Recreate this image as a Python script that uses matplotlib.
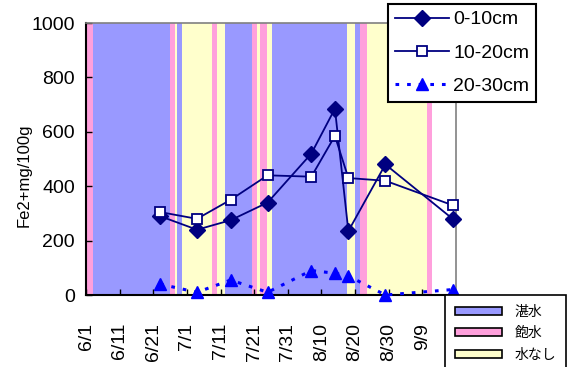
import matplotlib
matplotlib.use('Agg')
import matplotlib.pyplot as plt
from matplotlib.lines import Line2D
from matplotlib.patches import Patch
from matplotlib import font_manager
import pandas as pd

YEAR = 2006
x_start = '6/1'
x_end = '9/19'

sample_dates = ['6/23', '7/4', '7/14', '7/25', '8/7', '8/14', '8/18', '8/29', '9/18']
fe_0_10 = [290, 240, 275, 340, 520, 685, 235, 480, 280]
fe_10_20 = [305, 280, 350, 440, 435, 585, 430, 420, 330]
fe_20_30 = [40, 10, 55, 10, 90, 80, 70, 0, 20]
series_labels = ['0-10cm', '10-20cm', '20-30cm']

# water-condition bands, boundaries in days after 6/1
band_edges = [0, 2, 25, 26.5, 27, 28.5, 37.5, 39, 41.3, 49.3, 50.8, 51.7, 53.8,
              55.3, 77.6, 80, 81.5, 83.5, 101.5, 103]
band_state = ['飽水', '湛水', '飽水', '水なし', '湛水', '水なし', '飽水', '水なし', '湛水',
              '飽水', '水なし', '飽水', '水なし', '湛水', '水なし', '湛水', '飽水', '水なし', '飽水']
state_names = ['湛水', '飽水', '水なし']
state_colors = {'湛水': '#9999FF', '飽水': '#FFA0DC', '水なし': '#FFFFCC'}

x_tick_labels = ['6/1', '6/11', '6/21', '7/1', '7/11', '7/21', '7/31', '8/10',
                 '8/20', '8/30', '9/9']
y_ticks = [0, 200, 400, 600, 800, 1000]

names = {f.name for f in font_manager.fontManager.ttflist}
narrow = 'Liberation Sans Narrow' if 'Liberation Sans Narrow' in names else 'Liberation Sans'
plt.rcParams['font.family'] = [narrow, 'DejaVu Sans']
cjk = ['Noto Sans CJK JP', 'DejaVu Sans']

def d(s):
    return pd.Timestamp(f'{YEAR}/{s}')

start = d(x_start)
fig = plt.figure(figsize=(5.73, 3.67), dpi=100)
ax = fig.add_axes([86/573, 1-295/367, 370/573, 272/367])

for i, st in enumerate(band_state):
    a = start + pd.Timedelta(days=band_edges[i])
    b = start + pd.Timedelta(days=band_edges[i+1])
    ax.axvspan(a, b, color=state_colors[st], lw=0, zorder=0)

xs = [d(s) for s in sample_dates]
ax.plot(xs, fe_0_10, color='#000080', lw=1.3, marker='D', ms=8.5,
        mfc='#000080', mec='#000080', clip_on=False, zorder=3)
ax.plot(xs, fe_10_20, color='#000080', lw=1.3, marker='s', ms=6.5,
        mfc='white', mec='#000080', mew=1.3, clip_on=False, zorder=3)
ax.plot(xs, fe_20_30, color='#0000FF', lw=2.2, ls=(0, (1.2, 2.6)), marker='^', ms=9,
        mfc='#0000FF', mec='#0000FF', clip_on=False, zorder=3)

ax.set_xlim(start, d(x_end))
ax.set_ylim(0, 1000)
ax.set_xticks([d(s) for s in x_tick_labels])
ax.set_xticklabels(x_tick_labels, rotation=90)
ax.set_yticks(y_ticks)
ax.set_yticklabels([str(v) for v in y_ticks])
ax.tick_params(axis='x', direction='in', length=4, width=1, pad=20, labelsize=14)
ax.tick_params(axis='y', direction='in', length=4, width=1, pad=8, labelsize=14)
for s in ['left', 'bottom']:
    ax.spines[s].set_color('black')
    ax.spines[s].set_linewidth(1.5)
for s in ['top', 'right']:
    ax.spines[s].set_color('#808080')
    ax.spines[s].set_linewidth(1.2)

ax.set_ylabel('Fe2+mg/100g', fontsize=12, va='center')
ax.yaxis.set_label_coords(-0.168, 0.44)

h1 = [Line2D([], [], color='#000080', lw=1.3, marker='D', ms=8.5, mfc='#000080', mec='#000080'),
      Line2D([], [], color='#000080', lw=1.3, marker='s', ms=6.5, mfc='white', mec='#000080', mew=1.3),
      Line2D([], [], color='#0000FF', lw=2.2, ls=(0, (1.2, 2.6)), marker='^', ms=9, mfc='#0000FF', mec='#0000FF')]
leg1 = fig.legend(h1, series_labels, loc='upper left', bbox_to_anchor=(388/573, 1-4/367),
                  fontsize=14, frameon=True, fancybox=False, framealpha=1,
                  edgecolor='black', handlelength=2.8, handletextpad=0.2,
                  borderaxespad=0, borderpad=0.35, labelspacing=0.8)
leg1.get_frame().set_linewidth(1.5)

h2 = [Patch(facecolor=state_colors[s], edgecolor='black', lw=1.2) for s in state_names]
leg2 = fig.legend(h2, state_names, loc='upper left', bbox_to_anchor=(445/573, 1-295/367),
                  prop={'family': cjk, 'size': 10}, frameon=True, fancybox=False,
                  framealpha=1, edgecolor='black', handlelength=3.4, handleheight=0.5,
                  handletextpad=0.9, borderaxespad=0, borderpad=0.7, labelspacing=0.55)
leg2.get_frame().set_linewidth(1.2)

fig.savefig('out.png', dpi=100)
